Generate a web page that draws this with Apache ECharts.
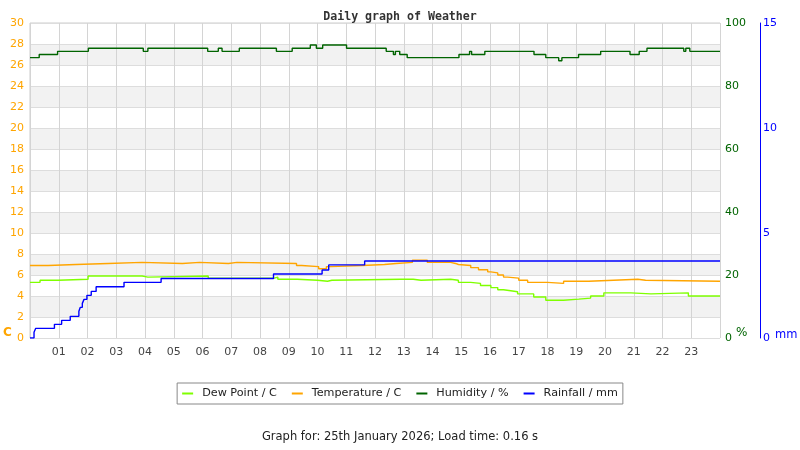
<!DOCTYPE html>
<html>
<head>
<meta charset="utf-8">
<script src="https://cdn.jsdelivr.net/npm/echarts@6/dist/echarts.min.js"></script>
<style>
  html, body { margin: 0; padding: 0; background: #fff; }
  #main { width: 800px; height: 450px; }
</style>
</head>
<body>
<div id="main"></div>
<script>
// ---------------- data (hours since midnight) ----------------
var hourLabels = ['01','02','03','04','05','06','07','08','09','10','11','12',
                  '13','14','15','16','17','18','19','20','21','22','23'];

var dewHours  = [0, 0.35, 0.98, 2.02, 3.9, 4.1, 6.2, 8.5, 8.62, 9.3, 10.0, 10.35, 10.5,
                 12.9, 13.33, 13.6, 14.63, 14.9, 15.33, 15.67, 16.03, 16.27, 16.47, 16.72,
                 16.96, 17.52, 17.94, 18.56, 19.09, 19.5, 19.96, 20.9, 21.6, 22.9, 24];
var dewValues = [5.3, 5.5, 5.6, 5.9, 5.8, 5.9, 5.7, 5.8, 5.6, 5.5, 5.4, 5.5, 5.6,
                 5.6, 5.5, 5.6, 5.5, 5.3, 5.2, 5.0, 4.8, 4.6, 4.5, 4.4,
                 4.2, 3.9, 3.6, 3.7, 3.8, 4.0, 4.3, 4.2, 4.3, 4.0, 4.0];

var tempHours  = [0, 0.63, 1.6, 2.72, 3.9, 5.3, 5.9, 6.9, 7.2, 9.27, 9.45, 10.04, 10.31,
                  10.45, 11.55, 12.33, 12.73, 13.3, 13.82, 14.63, 14.8, 14.9, 15.33, 15.6,
                  15.92, 16.03, 16.27, 16.47, 16.61, 17.0, 17.31, 18.0, 18.56, 19.43, 20.3,
                  21.14, 21.41, 24];
var tempValues = [6.9, 7.0, 7.1, 7.2, 7.1, 7.2, 7.1, 7.2, 7.1, 6.9, 6.8, 6.6, 6.8,
                  6.9, 7.0, 7.1, 7.2, 7.4, 7.2, 7.1, 7.0, 6.9, 6.7, 6.5,
                  6.3, 6.2, 6.0, 5.8, 5.7, 5.5, 5.3, 5.2, 5.4, 5.5, 5.6,
                  5.5, 5.4, 5.4];

var humHours  = [0, 0.32, 0.96, 2.03, 3.94, 4.1, 6.18, 6.55, 6.68, 7.28, 8.57, 9.12, 9.75,
                 9.96, 10.18, 11.01, 12.39, 12.64, 12.71, 12.86, 13.12, 14.92, 15.29, 15.36,
                 15.82, 17.53, 17.94, 18.39, 18.5, 19.08, 19.85, 20.87, 21.19, 21.46, 22.74,
                 22.81, 22.95, 24];
var humValues = [89, 90, 91, 92, 91, 92, 91, 92, 91, 92, 91, 92, 93,
                 92, 93, 92, 91, 90, 91, 90, 89, 90, 91, 90,
                 91, 90, 89, 88, 89, 90, 91, 90, 91, 92, 91,
                 92, 91, 91];

var rainHours  = [0, 0.14, 0.2, 0.85, 1.1, 1.4, 1.7, 1.75, 1.82, 1.88, 1.98, 2.13, 2.3,
                  3.27, 4.56, 8.47, 10.16, 10.39, 11.64, 24];
var rainValues = [0, 0.27, 0.46, 0.65, 0.84, 1.03, 1.27, 1.46, 1.65, 1.84, 2.03, 2.22, 2.44,
                  2.65, 2.83, 3.05, 3.24, 3.48, 3.67, 3.67];

function pairs(hours, values) {
    return hours.map(function (h, i) { return [h, values[i]]; });
}

var font = 'DejaVu Sans';

var chart = echarts.init(document.getElementById('main'), null, { renderer: 'canvas' });

chart.setOption({
    animation: false,
    backgroundColor: '#ffffff',
    title: {
        text: 'Daily graph of Weather',
        left: 'center',
        top: 6,
        textStyle: { fontFamily: 'DejaVu Sans Mono', fontWeight: 'bold', fontSize: 11.6, color: '#333' }
    },
    legend: {
        top: 383,
        left: 'center',
        borderColor: '#888',
        borderWidth: 1,
        borderRadius: 0,
        padding: [5, 5, 5, 5],
        itemGap: 15,
        itemWidth: 11,
        itemHeight: 2,
        icon: 'rect',
        textStyle: { fontFamily: font, fontSize: 11.2, color: '#222', padding: [0, 0, 0, 4] },
        data: ['Dew Point / C', 'Temperature / C', 'Humidity / %', 'Rainfall / mm']
    },
    grid: {
        left: 30, right: 80, top: 23, bottom: 112,
        show: true, borderColor: '#cccccc', borderWidth: 1
    },
    xAxis: {
        type: 'value',
        min: 0, max: 24, interval: 1,
        axisLine: { show: false },
        axisTick: { show: false },
        axisLabel: {
            margin: 9, fontFamily: font, fontSize: 11, color: '#444',
            formatter: function (v) { return (v > 0 && v < 24) ? hourLabels[v - 1] : ''; }
        },
        splitLine: { show: true, lineStyle: { color: '#d4d4d4' } }
    },
    yAxis: [
        {
            type: 'value', position: 'left',
            min: 0, max: 30, interval: 2,
            axisLine: { show: false },
            axisTick: { show: false },
            axisLabel: { margin: 6, fontFamily: font, fontSize: 11, color: '#ffa500', padding: [3, 0, 0, 0] },
            splitLine: { show: true, lineStyle: { color: '#dddddd' } },
            splitArea: { show: true, areaStyle: { color: ['#ffffff', '#f2f2f2'] } }
        },
        {
            type: 'value', position: 'right',
            min: 0, max: 100, interval: 20,
            axisLine: { show: false },
            axisTick: { show: false },
            axisLabel: { margin: 5, fontFamily: font, fontSize: 11, color: '#006400', padding: [3, 0, 0, 0] },
            splitLine: { show: false }
        },
        {
            type: 'value', position: 'right', offset: 40,
            min: 0, max: 15, interval: 5,
            axisLine: { show: true, lineStyle: { color: '#0000ff', width: 1 } },
            axisTick: { show: false },
            axisLabel: { margin: 3, fontFamily: font, fontSize: 11, color: '#0000ff', padding: [3, 0, 0, 0] },
            splitLine: { show: false }
        }
    ],
    graphic: [
        { type: 'text', left: 3, top: 327, style: { text: 'C', font: 'bold 12px "DejaVu Sans"', fill: '#ffa500' } },
        { type: 'text', left: 736, top: 327, style: { text: '%', font: '12px "DejaVu Sans"', fill: '#006400' } },
        { type: 'text', left: 775, top: 329, style: { text: 'mm', font: '11.5px "DejaVu Sans"', fill: '#0000ff' } },
        { type: 'text', left: 'center', top: 431,
          style: { text: 'Graph for: 25th January 2026; Load time: 0.16 s', font: '11.5px "DejaVu Sans"', fill: '#222' } }
    ],
    series: [
        {
            name: 'Dew Point / C', type: 'line', step: 'end', yAxisIndex: 0,
            showSymbol: false, color: '#7fff00', lineStyle: { width: 1.4 },
            data: pairs(dewHours, dewValues)
        },
        {
            name: 'Temperature / C', type: 'line', step: 'end', yAxisIndex: 0,
            showSymbol: false, color: '#ffa500', lineStyle: { width: 1.4 },
            data: pairs(tempHours, tempValues)
        },
        {
            name: 'Humidity / %', type: 'line', step: 'end', yAxisIndex: 1,
            showSymbol: false, color: '#006400', lineStyle: { width: 1.4 },
            data: pairs(humHours, humValues)
        },
        {
            name: 'Rainfall / mm', type: 'line', step: 'end', yAxisIndex: 2,
            showSymbol: false, color: '#0000ff', lineStyle: { width: 1.4 },
            data: pairs(rainHours, rainValues)
        }
    ]
});
</script>
</body>
</html>
